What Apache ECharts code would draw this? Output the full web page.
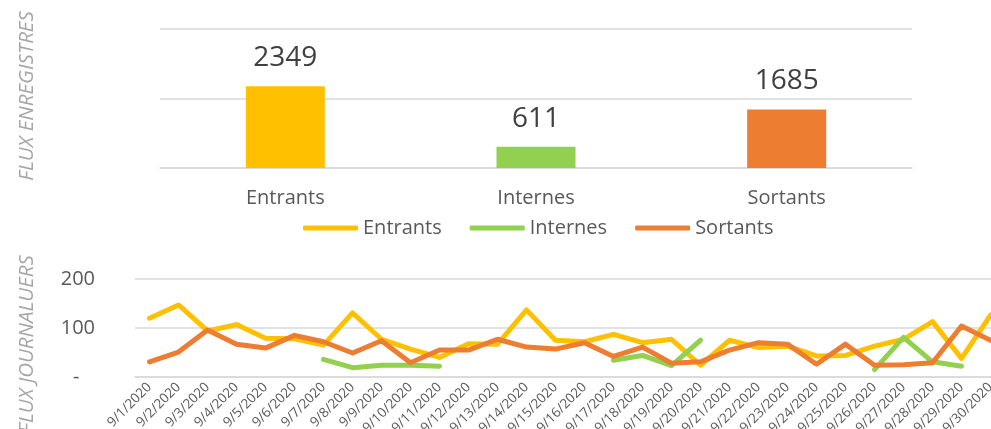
<!DOCTYPE html>
<html>
<head>
<meta charset="utf-8">
<script src="https://cdn.jsdelivr.net/npm/echarts@6/dist/echarts.min.js"></script>
<style>
  html, body { margin: 0; padding: 0; background: #fff; }
  #chart { width: 991px; height: 429px; }
</style>
</head>
<body>
<div id="chart"></div>
<script>
// totaux
const fluxNames = ['Entrants', 'Internes', 'Sortants']
const fluxTotals = [2349, 611, 1685]
const fluxColors = ['#FFC000', '#92D050', '#ED7D31']

// flux journaliers
const days = [
  '9/1/2020', '9/2/2020', '9/3/2020', '9/4/2020', '9/5/2020', '9/6/2020', '9/7/2020', '9/8/2020',
  '9/9/2020', '9/10/2020', '9/11/2020', '9/12/2020', '9/13/2020', '9/14/2020', '9/15/2020',
  '9/16/2020', '9/17/2020', '9/18/2020', '9/19/2020', '9/20/2020', '9/21/2020', '9/22/2020',
  '9/23/2020', '9/24/2020', '9/25/2020', '9/26/2020', '9/27/2020', '9/28/2020', '9/29/2020', '9/30/2020'
]
const entrants = [120, 147, 94, 107, 79, 78, 65, 131, 77, 57, 40, 68, 67, 137, 75,
  72, 87, 70, 77, 24, 75, 60, 63, 43, 44, 63, 77, 113, 38, 126]
const internes = [null, null, null, null, null, null, 36, 19, 24, 24, 22, null, null, null, null,
  null, 34, 44, 23, 75, null, null, null, null, null, 15, 81, 31, 22, null]
const sortants = [31, 51, 96, 67, 59, 85, 72, 49, 74, 29, 55, 55, 77, 61, 57,
  70, 42, 61, 28, 31, 55, 70, 67, 26, 67, 24, 25, 29, 104, 75]

const font = '"Open Sans", sans-serif'
const textGrey = '#595959'
const lineGrey = '#D9D9D9'

const chart = echarts.init(document.getElementById('chart'), null, { renderer: 'canvas' })

const lineSeries = (name, data, color) => ({
  name,
  type: 'line',
  xAxisIndex: 1,
  yAxisIndex: 1,
  data,
  symbol: 'none',
  smooth: false,
  lineStyle: { color, width: 5, cap: 'round', join: 'round' },
  itemStyle: { color }
})

chart.setOption({
  animation: false,
  textStyle: { fontFamily: font },
  graphic: [
    {
      type: 'text',
      x: 27, y: 96,
      rotation: Math.PI / 2,
      style: {
        text: 'FLUX ENREGISTRES',
        fill: '#A6A6A6',
        font: 'italic 20.5px ' + font,
        align: 'center',
        verticalAlign: 'middle'
      }
    },
    {
      type: 'text',
      x: 27, y: 344,
      rotation: Math.PI / 2,
      style: {
        text: 'FLUX JOURNALUERS',
        fill: '#A6A6A6',
        font: 'italic 20.5px ' + font,
        align: 'center',
        verticalAlign: 'middle'
      }
    }
  ],
  legend: {
    data: fluxNames,
    left: 298,
    top: 213,
    icon: 'roundRect',
    itemWidth: 55,
    itemHeight: 5,
    itemGap: 28,
    textStyle: { color: textGrey, fontSize: 20, fontFamily: font }
  },
  grid: [
    { left: 160, right: 79, top: 29, height: 139, outerBoundsMode: 'none' },
    { left: 135, width: 870, top: 279, height: 98, outerBoundsMode: 'none' }
  ],
  xAxis: [
    {
      gridIndex: 0,
      type: 'category',
      data: fluxNames,
      axisLine: { lineStyle: { color: lineGrey, width: 1.5 } },
      axisTick: { show: false },
      axisLabel: { color: textGrey, fontSize: 20, margin: 20 }
    },
    {
      gridIndex: 1,
      type: 'category',
      data: days,
      axisLine: { lineStyle: { color: lineGrey, width: 1.5 } },
      axisTick: { show: false },
      axisLabel: { color: textGrey, fontSize: 13.5, rotate: 45, interval: 0, margin: 8 }
    }
  ],
  yAxis: [
    {
      gridIndex: 0,
      type: 'value',
      min: 0,
      max: 4000,
      interval: 2000,
      axisLabel: { show: false },
      axisLine: { show: false },
      axisTick: { show: false },
      splitLine: { lineStyle: { color: lineGrey, width: 1.5 } }
    },
    {
      gridIndex: 1,
      type: 'value',
      min: 0,
      max: 200,
      interval: 100,
      axisLine: { show: false },
      axisTick: { show: false },
      axisLabel: {
        color: textGrey,
        fontSize: 20,
        margin: 40,
        formatter: v => (v === 0 ? '-   ' : String(v))
      },
      splitLine: { lineStyle: { color: lineGrey, width: 1.5 } }
    }
  ],
  series: [
    {
      type: 'bar',
      xAxisIndex: 0,
      yAxisIndex: 0,
      barWidth: 79,
      data: fluxTotals.map((v, i) => ({ value: v, itemStyle: { color: fluxColors[i] } })),
      label: {
        show: true,
        position: 'top',
        distance: 14,
        color: '#404040',
        fontSize: 28,
        fontFamily: font
      }
    },
    lineSeries('Entrants', entrants, fluxColors[0]),
    lineSeries('Internes', internes, fluxColors[1]),
    lineSeries('Sortants', sortants, fluxColors[2])
  ]
})
</script>
</body>
</html>
